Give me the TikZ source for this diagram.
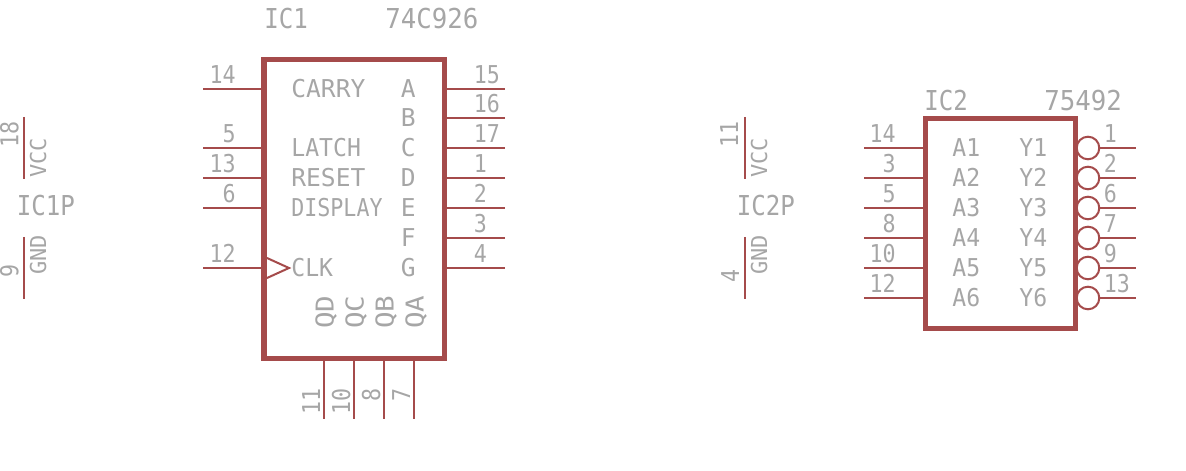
\documentclass[tikz,border=0pt]{standalone}
\usepackage{xcolor}
\usepackage{tikz}
\usepackage{fontspec}
\setmainfont{DejaVu Sans Mono}
\newfontfamily\tightfont[FakeStretch=0.88]{DejaVu Sans Mono}
\newfontfamily\midfont[FakeStretch=0.94]{DejaVu Sans Mono}
\newfontfamily\widefont[FakeStretch=1.12]{DejaVu Sans Mono}
\definecolor{pinred}{HTML}{A54B4B}
\definecolor{txtgray}{HTML}{A6A6A6}
\tikzset{
	wire/.style={draw=pinred, line width=1.14pt},
	icbody/.style={draw=pinred, line width=2.85pt, fill=none, inner sep=0, outer sep=0},
	bubble/.style={draw=pinred, line width=1.14pt, shape=circle, minimum size=0.452cm, inner sep=0, outer sep=0},
	txt/.style={text=txtgray, inner sep=0, font=\fontsize{14}{14}\selectfont},
	numtxt/.style={text=txtgray, inner sep=0, font=\tightfont\fontsize{14}{14}\selectfont},
	midtxt/.style={text=txtgray, inner sep=0, font=\midfont\fontsize{14}{14}\selectfont},
	widetxt/.style={text=txtgray, inner sep=0, font=\widefont\fontsize{14}{14}\selectfont},
	bigtxt/.style={text=txtgray, inner sep=0, font=\midfont\fontsize{15.6}{16}\selectfont},
	bignarrow/.style={text=txtgray, inner sep=0, font=\tightfont\fontsize{15.6}{16}\selectfont},
	smalltxt/.style={text=txtgray, inner sep=0, font=\fontsize{12.5}{13}\selectfont},
}
\begin{document}
\begin{tikzpicture}
	\useasboundingbox (0, 0) rectangle (23.72, -9.42);
	% IC1
	\node [icbody, minimum width=3.6cm, minimum height=5.98cm] (IC1) at (7.08, -4.175) {};
	\node [bignarrow, anchor=base west] (IC1name) at (5.28, -0.57) {IC1};
	\node [bigtxt, anchor=base west] (IC1value) at (7.70, -0.57) {74C926};
	% IC1 left pins
	\coordinate (a14) at (4.06, -1.78);
	\coordinate (b14) at (5.28, -1.78);
	\coordinate (a5) at (4.06, -2.96);
	\coordinate (b5) at (5.28, -2.96);
	\coordinate (a13) at (4.06, -3.56);
	\coordinate (b13) at (5.28, -3.56);
	\coordinate (a6) at (4.06, -4.16);
	\coordinate (b6) at (5.28, -4.16);
	\coordinate (a12) at (4.06, -5.36);
	\coordinate (b12) at (5.28, -5.36);
	\draw [wire] (a14) to (b14);
	\draw [wire] (a5) to (b5);
	\draw [wire] (a13) to (b13);
	\draw [wire] (a6) to (b6);
	\draw [wire] (a12) to (b12);
	\node [numtxt, anchor=base east] (n14) at (4.72, -1.67) {14};
	\node [numtxt, anchor=base east] (n5) at (4.72, -2.85) {5};
	\node [numtxt, anchor=base east] (n13) at (4.72, -3.45) {13};
	\node [numtxt, anchor=base east] (n6) at (4.72, -4.05) {6};
	\node [numtxt, anchor=base east] (n12) at (4.72, -5.25) {12};
	\node [txt, anchor=base west] (lCarry) at (5.82, -1.96) {CARRY};
	\node [midtxt, anchor=base west] (lLatch) at (5.82, -3.14) {LATCH};
	\node [txt, anchor=base west] (lReset) at (5.82, -3.74) {RESET};
	\node [numtxt, anchor=base west] (lDisplay) at (5.82, -4.34) {DISPLAY};
	\node [midtxt, anchor=base west] (lClk) at (5.82, -5.54) {CLK};
	% clock mark
	\coordinate (ck1) at (5.34, -5.16);
	\coordinate (ck2) at (5.78, -5.36);
	\coordinate (ck3) at (5.34, -5.56);
	\draw [wire] (ck1) to (ck2) to (ck3);
	% IC1 right pins
	\coordinate (c15) at (8.88, -1.78);
	\coordinate (d15) at (10.10, -1.78);
	\coordinate (c16) at (8.88, -2.36);
	\coordinate (d16) at (10.10, -2.36);
	\coordinate (c17) at (8.88, -2.96);
	\coordinate (d17) at (10.10, -2.96);
	\coordinate (c1) at (8.88, -3.56);
	\coordinate (d1) at (10.10, -3.56);
	\coordinate (c2) at (8.88, -4.16);
	\coordinate (d2) at (10.10, -4.16);
	\coordinate (c3) at (8.88, -4.76);
	\coordinate (d3) at (10.10, -4.76);
	\coordinate (c4) at (8.88, -5.36);
	\coordinate (d4) at (10.10, -5.36);
	\draw [wire] (c15) to (d15);
	\draw [wire] (c16) to (d16);
	\draw [wire] (c17) to (d17);
	\draw [wire] (c1) to (d1);
	\draw [wire] (c2) to (d2);
	\draw [wire] (c3) to (d3);
	\draw [wire] (c4) to (d4);
	\node [numtxt, anchor=base west] (n15) at (9.47, -1.67) {15};
	\node [numtxt, anchor=base west] (n16) at (9.47, -2.25) {16};
	\node [numtxt, anchor=base west] (n17) at (9.47, -2.85) {17};
	\node [numtxt, anchor=base west] (n1) at (9.47, -3.45) {1};
	\node [numtxt, anchor=base west] (n2) at (9.47, -4.05) {2};
	\node [numtxt, anchor=base west] (n3) at (9.47, -4.65) {3};
	\node [numtxt, anchor=base west] (n4) at (9.47, -5.25) {4};
	\node [txt, anchor=base east] (lA) at (8.32, -1.96) {A};
	\node [txt, anchor=base east] (lB) at (8.32, -2.54) {B};
	\node [txt, anchor=base east] (lC) at (8.32, -3.14) {C};
	\node [txt, anchor=base east] (lD) at (8.32, -3.74) {D};
	\node [txt, anchor=base east] (lE) at (8.32, -4.34) {E};
	\node [txt, anchor=base east] (lF) at (8.32, -4.94) {F};
	\node [txt, anchor=base east] (lG) at (8.32, -5.54) {G};
	% IC1 bottom pins
	\coordinate (e11) at (6.48, -7.17);
	\coordinate (f11) at (6.48, -8.38);
	\coordinate (e10) at (7.08, -7.17);
	\coordinate (f10) at (7.08, -8.38);
	\coordinate (e8) at (7.68, -7.17);
	\coordinate (f8) at (7.68, -8.38);
	\coordinate (e7) at (8.28, -7.17);
	\coordinate (f7) at (8.28, -8.38);
	\draw [wire] (e11) to (f11);
	\draw [wire] (e10) to (f10);
	\draw [wire] (e8) to (f8);
	\draw [wire] (e7) to (f7);
	\node [numtxt, rotate=90, anchor=base east] (n11) at (6.40, -7.76) {11};
	\node [numtxt, rotate=90, anchor=base east] (n10) at (7.00, -7.76) {10};
	\node [numtxt, rotate=90, anchor=base east] (n8) at (7.60, -7.76) {8};
	\node [numtxt, rotate=90, anchor=base east] (n7) at (8.20, -7.76) {7};
	\node [widetxt, rotate=90, anchor=base west] (lQD) at (6.67, -6.58) {QD};
	\node [widetxt, rotate=90, anchor=base west] (lQC) at (7.27, -6.58) {QC};
	\node [widetxt, rotate=90, anchor=base west] (lQB) at (7.87, -6.58) {QB};
	\node [widetxt, rotate=90, anchor=base west] (lQA) at (8.47, -6.58) {QA};
	% IC1P
	\coordinate (v1a) at (0.48, -2.34);
	\coordinate (v1b) at (0.48, -3.58);
	\coordinate (g1a) at (0.48, -4.74);
	\coordinate (g1b) at (0.48, -5.98);
	\draw [wire] (v1a) to (v1b);
	\draw [wire] (g1a) to (g1b);
	\node [bignarrow, anchor=base west] (IC1P) at (0.33, -4.32) {IC1P};
	\node [numtxt, rotate=90, anchor=base west] (n18) at (0.37, -2.96) {18};
	\node [numtxt, rotate=90, anchor=base west] (n9p) at (0.37, -5.56) {9};
	\node [smalltxt, rotate=90, anchor=base west] (lVcc1) at (0.92, -3.56) {VCC};
	\node [smalltxt, rotate=90, anchor=base west] (lGnd1) at (0.92, -5.50) {GND};
	% IC2P
	\coordinate (v2a) at (14.90, -2.34);
	\coordinate (v2b) at (14.90, -3.58);
	\coordinate (g2a) at (14.90, -4.74);
	\coordinate (g2b) at (14.90, -5.98);
	\draw [wire] (v2a) to (v2b);
	\draw [wire] (g2a) to (g2b);
	\node [bignarrow, anchor=base west] (IC2P) at (14.73, -4.32) {IC2P};
	\node [numtxt, rotate=90, anchor=base west] (n11p) at (14.76, -2.96) {11};
	\node [numtxt, rotate=90, anchor=base west] (n4p) at (14.78, -5.66) {4};
	\node [smalltxt, rotate=90, anchor=base west] (lVcc2) at (15.34, -3.56) {VCC};
	\node [smalltxt, rotate=90, anchor=base west] (lGnd2) at (15.34, -5.50) {GND};
	% IC2
	\node [icbody, minimum width=3cm, minimum height=4.2cm] (IC2) at (20.01, -4.47) {};
	\node [bignarrow, anchor=base west] (IC2name) at (18.48, -2.22) {IC2};
	\node [bigtxt, anchor=base west] (IC2value) at (20.88, -2.22) {75492};
	% IC2 left pins
	\coordinate (h14) at (17.28, -2.96);
	\coordinate (i14) at (18.51, -2.96);
	\coordinate (h3) at (17.28, -3.56);
	\coordinate (i3) at (18.51, -3.56);
	\coordinate (h5) at (17.28, -4.16);
	\coordinate (i5) at (18.51, -4.16);
	\coordinate (h8) at (17.28, -4.76);
	\coordinate (i8) at (18.51, -4.76);
	\coordinate (h10) at (17.28, -5.36);
	\coordinate (i10) at (18.51, -5.36);
	\coordinate (h12) at (17.28, -5.96);
	\coordinate (i12) at (18.51, -5.96);
	\draw [wire] (h14) to (i14);
	\draw [wire] (h3) to (i3);
	\draw [wire] (h5) to (i5);
	\draw [wire] (h8) to (i8);
	\draw [wire] (h10) to (i10);
	\draw [wire] (h12) to (i12);
	\node [numtxt, anchor=base east] (m14) at (17.92, -2.85) {14};
	\node [numtxt, anchor=base east] (m3) at (17.92, -3.45) {3};
	\node [numtxt, anchor=base east] (m5) at (17.92, -4.05) {5};
	\node [numtxt, anchor=base east] (m8) at (17.92, -4.65) {8};
	\node [numtxt, anchor=base east] (m10) at (17.92, -5.25) {10};
	\node [numtxt, anchor=base east] (m12) at (17.92, -5.85) {12};
	\node [midtxt, anchor=base west] (lA1) at (19.04, -3.14) {A1};
	\node [midtxt, anchor=base west] (lA2) at (19.04, -3.74) {A2};
	\node [midtxt, anchor=base west] (lA3) at (19.04, -4.34) {A3};
	\node [midtxt, anchor=base west] (lA4) at (19.04, -4.94) {A4};
	\node [midtxt, anchor=base west] (lA5) at (19.04, -5.54) {A5};
	\node [midtxt, anchor=base west] (lA6) at (19.04, -6.14) {A6};
	\node [midtxt, anchor=base west] (lY1) at (20.38, -3.14) {Y1};
	\node [midtxt, anchor=base west] (lY2) at (20.38, -3.74) {Y2};
	\node [midtxt, anchor=base west] (lY3) at (20.38, -4.34) {Y3};
	\node [midtxt, anchor=base west] (lY4) at (20.38, -4.94) {Y4};
	\node [midtxt, anchor=base west] (lY5) at (20.38, -5.54) {Y5};
	\node [midtxt, anchor=base west] (lY6) at (20.38, -6.14) {Y6};
	% IC2 right pins
	\node [bubble] (y1) at (21.76, -2.96) {};
	\node [bubble] (y2) at (21.76, -3.56) {};
	\node [bubble] (y3) at (21.76, -4.16) {};
	\node [bubble] (y4) at (21.76, -4.76) {};
	\node [bubble] (y5) at (21.76, -5.36) {};
	\node [bubble] (y6) at (21.76, -5.96) {};
	\coordinate (k1) at (22.72, -2.96);
	\coordinate (k2) at (22.72, -3.56);
	\coordinate (k3) at (22.72, -4.16);
	\coordinate (k4) at (22.72, -4.76);
	\coordinate (k5) at (22.72, -5.36);
	\coordinate (k6) at (22.72, -5.96);
	\draw [wire] (y1) to (k1);
	\draw [wire] (y2) to (k2);
	\draw [wire] (y3) to (k3);
	\draw [wire] (y4) to (k4);
	\draw [wire] (y5) to (k5);
	\draw [wire] (y6) to (k6);
	\node [numtxt, anchor=base west] (m1) at (22.07, -2.85) {1};
	\node [numtxt, anchor=base west] (m2) at (22.07, -3.45) {2};
	\node [numtxt, anchor=base west] (m6) at (22.07, -4.05) {6};
	\node [numtxt, anchor=base west] (m7) at (22.07, -4.65) {7};
	\node [numtxt, anchor=base west] (m9) at (22.07, -5.25) {9};
	\node [numtxt, anchor=base west] (m13) at (22.07, -5.85) {13};
\end{tikzpicture}
\end{document}
